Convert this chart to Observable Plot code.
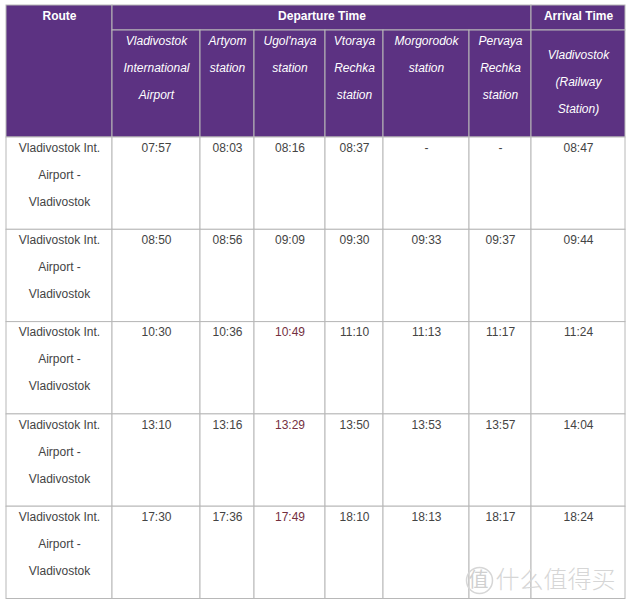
<!DOCTYPE html>
<html><head><meta charset="utf-8">
<script src="https://cdn.jsdelivr.net/npm/d3@7"></script>
<script src="https://cdn.jsdelivr.net/npm/@observablehq/plot@0.6"></script>
<style>html,body{margin:0;padding:0;background:#fff}</style>
</head><body><div id="chart"></div>
<script>
// ---- data ----
const groupHeaders = ["Route", "Departure Time", "Arrival Time"];
const stations = [
  "Vladivostok\nInternational\nAirport",
  "Artyom\nstation",
  "Ugol'naya\nstation",
  "Vtoraya\nRechka\nstation",
  "Morgorodok\nstation",
  "Pervaya\nRechka\nstation",
  "Vladivostok\n(Railway\nStation)"
];
const routes = [
  "Vladivostok Int.\nAirport -\nVladivostok",
  "Vladivostok Int.\nAirport -\nVladivostok",
  "Vladivostok Int.\nAirport -\nVladivostok",
  "Vladivostok Int.\nAirport -\nVladivostok",
  "Vladivostok Int.\nAirport -\nVladivostok"
];
const airportTimes    = ["07:57", "08:50", "10:30", "13:10", "17:30"];
const artyomTimes     = ["08:03", "08:56", "10:36", "13:16", "17:36"];
const ugolnayaTimes   = ["08:16", "09:09", "10:49", "13:29", "17:49"];
const vtorayaTimes    = ["08:37", "09:30", "11:10", "13:50", "18:10"];
const morgorodokTimes = ["-", "09:33", "11:13", "13:53", "18:13"];
const pervayaTimes    = ["-", "09:37", "11:17", "13:57", "18:17"];
const arrivalTimes    = ["08:47", "09:44", "11:24", "14:04", "18:24"];
const watermarkIcon = ["值"];
const watermarkText = ["什么值得买"];

// ---- layout (not data) ----
const colEdges = [6, 112, 200, 254, 325, 383, 469, 531, 625];
const headTop = 5, headMid = 30, headBottom = 137;
const rowH = 92.3;
const PURPLE = "#5c3282", BORDER = "#b8b8b8", TEXT = "#444", RED = "#74303f";
const FONT = "'Liberation Sans', Arial, Helvetica, sans-serif";

const columns = [airportTimes, artyomTimes, ugolnayaTimes, vtorayaTimes, morgorodokTimes, pervayaTimes, arrivalTimes];

// header cells
const headCells = [
  {x1: colEdges[0], x2: colEdges[1], y1: headTop, y2: headBottom, text: groupHeaders[0]},
  {x1: colEdges[1], x2: colEdges[7], y1: headTop, y2: headMid, text: groupHeaders[1]},
  {x1: colEdges[7], x2: colEdges[8], y1: headTop, y2: headMid, text: groupHeaders[2]}
];
const stationCells = stations.map((s, i) => ({
  x1: colEdges[i + 1], x2: colEdges[i + 2], y1: headMid, y2: headBottom, text: s,
  middle: i === stations.length - 1
}));
const bodyCells = [];
routes.forEach((r, ri) => {
  const y1 = headBottom + ri * rowH, y2 = y1 + rowH;
  bodyCells.push({x1: colEdges[0], x2: colEdges[1], y1, y2, text: r, red: false});
  columns.forEach((col, ci) => {
    bodyCells.push({x1: colEdges[ci + 1], x2: colEdges[ci + 2], y1, y2, text: col[ri], red: ci === 2 && ri >= 2});
  });
});
const cx = d => (d.x1 + d.x2) / 2;
const ty1 = d => d.y1 + 6;      // single-line top text
const tyM = d => d.y1 - 5;      // multi-line top text (lineHeight 2.25)

const chart = Plot.plot({
  width: 631,
  height: 608,
  margin: 0,
  x: {type: "identity", axis: null},
  y: {type: "identity", axis: null},
  style: {background: "#fff", fontFamily: FONT},
  marks: [
    Plot.rect([...headCells, ...stationCells], {x1: "x1", x2: "x2", y1: "y1", y2: "y2", fill: PURPLE, stroke: BORDER, strokeWidth: 1}),
    Plot.rect(bodyCells, {x1: "x1", x2: "x2", y1: "y1", y2: "y2", fill: "#fff", stroke: BORDER, strokeWidth: 1}),
    Plot.text(headCells, {x: cx, y: ty1, text: "text", lineAnchor: "top", fill: "#fff", fontWeight: "bold", fontSize: 12}),
    Plot.text(stationCells.filter(d => !d.middle), {x: cx, y: tyM, text: "text", lineAnchor: "top", lineHeight: 2.25, fill: "#fff", fontStyle: "italic", fontSize: 12}),
    Plot.text(stationCells.filter(d => d.middle), {x: cx, y: d => (d.y1 + d.y2) / 2 - 6.5, text: "text", lineAnchor: "middle", lineHeight: 2.25, fill: "#fff", fontStyle: "italic", fontSize: 12}),
    Plot.text(bodyCells.filter(d => !d.red), {x: cx, y: tyM, text: "text", lineAnchor: "top", lineHeight: 2.25, fill: TEXT, fontSize: 12}),
    Plot.text(bodyCells.filter(d => d.red), {x: cx, y: tyM, text: "text", lineAnchor: "top", lineHeight: 2.25, fill: RED, fontSize: 12}),
    // watermark
    Plot.dot(watermarkIcon, {x: () => 479, y: () => 580, r: 13, stroke: "#d6d6d6", strokeWidth: 1.5, fill: "none"}),
    Plot.text(watermarkIcon, {x: () => 478, y: () => 580, text: d => d, fill: "#d0d0d0", fontSize: 20, fontFamily: "'Noto Sans CJK SC', sans-serif"}),
    Plot.text(watermarkText, {x: () => 555, y: () => 580, text: d => d, fill: "#d6d6d6", fontSize: 24, fontFamily: "'Noto Sans CJK SC', sans-serif", fontWeight: 300})
  ]
});
document.getElementById("chart").appendChild(chart);
</script>
</body></html>
